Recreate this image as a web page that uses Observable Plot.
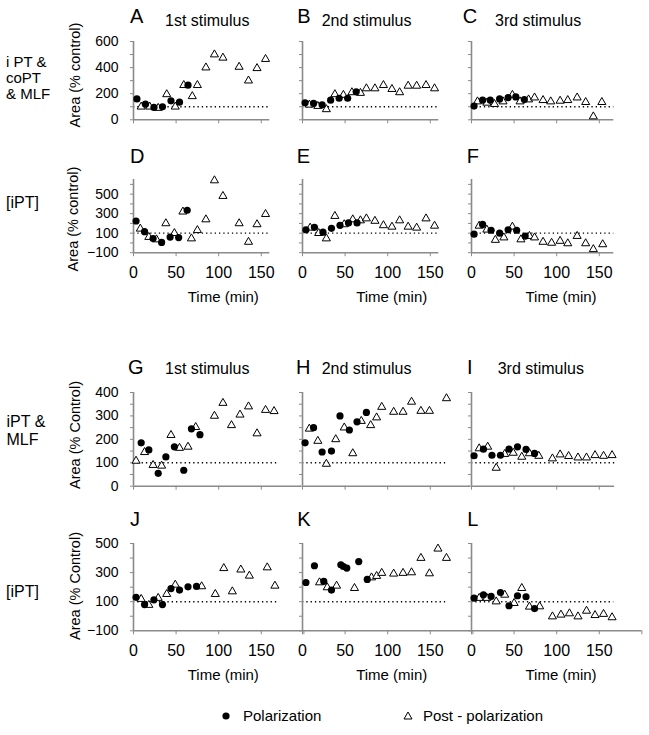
<!DOCTYPE html>
<html>
<head>
<meta charset="utf-8">
<script src="https://cdn.jsdelivr.net/npm/d3@7"></script>
<script src="https://cdn.jsdelivr.net/npm/@observablehq/plot@0.6"></script>
<style>
  html, body { margin: 0; padding: 0; background: #fff; }
  #fig { position: relative; width: 649px; height: 735px; overflow: hidden;
         font-family: "Liberation Sans", Arial, sans-serif; color: #000; }
  #fig .t { position: absolute; white-space: pre; }
  #fig svg { overflow: visible; }
</style>
</head>
<body>
<div id="fig"></div>
<script>
// ---------- data: [time (min), area (% control)] ----------
const A_pol  = [[4,160],[14,120],[24,95],[34,100],[44,145],[54,135],[64,265]];
const A_post = [[9,100],[19,100],[29,90],[39,195],[49,100],[59,265],[69,180],[75,265],[85,400],[95,500],[105,475],[124,405],[135,300],[145,395],[155,465]];
const B_pol  = [[3,130],[13,125],[23,115],[33,150],[43,165],[53,165],[63,215]];
const B_post = [[8,115],[18,105],[28,80],[38,195],[48,190],[58,210],[68,205],[75,240],[85,240],[95,265],[105,235],[114,210],[124,260],[134,260],[145,265],[155,240]];
const C_pol  = [[3,105],[13,150],[22,150],[33,160],[43,170],[52,175],[62,155]];
const C_post = [[7,140],[18,130],[27,120],[37,140],[48,190],[57,140],[67,155],[74,170],[84,150],[93,140],[104,145],[113,150],[124,170],[134,135],[143,25],[153,135]];
const D_pol  = [[3,225],[13,115],[23,45],[33,5],[43,60],[53,55],[63,335]];
const D_post = [[8,145],[18,60],[27,35],[38,200],[48,100],[58,320],[68,45],[75,130],[85,240],[95,640],[105,480],[124,200],[135,10],[145,190],[155,295]];
const E_pol  = [[4,135],[14,160],[24,110],[34,150],[44,180],[54,205],[64,205]];
const E_post = [[9,155],[19,100],[28,45],[38,275],[49,190],[59,240],[68,230],[75,250],[85,225],[95,180],[105,165],[114,230],[124,165],[134,155],[145,250],[155,175]];
const F_pol  = [[3,90],[13,190],[23,130],[33,100],[43,135],[53,130],[63,70]];
const F_post = [[9,175],[18,135],[28,30],[38,55],[48,165],[58,35],[68,70],[74,55],[84,10],[94,0],[104,20],[113,-5],[124,70],[134,-5],[143,-65],[154,-15]];
const G_pol  = [[9,185],[18,155],[29,55],[38,125],[48,168],[59,68],[68,245],[78,220]];
const G_post = [[3,108],[13,145],[23,90],[33,87],[44,218],[54,163],[64,168],[73,252],[95,300],[105,355],[115,260],[125,305],[135,340],[145,225],[155,325],[165,320]];
const H_pol  = [[3,185],[13,250],[23,146],[34,150],[44,300],[55,240],[64,275],[75,315]];
const H_post = [[8,245],[18,193],[28,95],[39,200],[49,250],[59,140],[69,278],[80,260],[87,293],[93,338],[107,317],[118,317],[128,360],[139,321],[149,321],[169,375]];
const I_pol  = [[3,130],[14,158],[24,132],[34,132],[44,158],[54,168],[64,157],[74,140]];
const I_post = [[9,161],[19,168],[29,78],[39,137],[49,142],[59,125],[68,140],[79,129],[95,118],[104,135],[114,128],[125,122],[135,122],[145,132],[155,129],[165,132]];
const J_pol  = [[3,130],[13,80],[24,113],[34,80],[44,190],[54,180],[64,202],[74,205]];
const J_post = [[9,118],[18,77],[29,125],[39,152],[49,216],[80,205],[96,152],[106,330],[116,170],[126,320],[136,278],[157,335],[166,209]];
const K_pol  = [[4,232],[14,347],[25,239],[34,180],[45,354],[48,342],[52,331],[66,376],[76,253]];
const K_post = [[20,232],[29,198],[40,209],[61,193],[81,266],[87,276],[93,297],[107,292],[118,297],[128,301],[139,400],[149,294],[159,464],[169,400]];
const L_pol  = [[3,125],[14,147],[23,136],[34,163],[44,72],[54,141],[64,134],[74,53]];
const L_post = [[9,125],[18,125],[29,101],[39,147],[50,90],[59,193],[68,65],[80,67],[95,-2],[105,10],[115,19],[125,-2],[135,37],[145,7],[155,15],[165,-8]];

const letters   = ["A","B","C","D","E","F","G","H","I","J","K","L"];
const polData   = [A_pol,B_pol,C_pol,D_pol,E_pol,F_pol,G_pol,H_pol,I_pol,J_pol,K_pol,L_pol];
const postData  = [A_post,B_post,C_post,D_post,E_post,F_post,G_post,H_post,I_post,J_post,K_post,L_post];
const stimTitles = ["1st stimulus","2nd stimulus","3rd stimulus"];
const rowLabels  = ["i PT &\ncoPT\n& MLF","[iPT]","iPT &\nMLF","[iPT]"];
const yTitles    = ["Area (% control)","Area (% control)","Area (% Control)","Area (% Control)"];
const xTickValues = [0,50,100,150,200];
const xTickLabels = [0,50,100,150];
const yTickValues = [[0,100,200,300,400,500,600],[-100,0,100,200,300,400,500,600],[0,50,100,150,200,250,300,350,400],[-100,0,100,200,300,400,500]];
const yTickLabels = [[0,200,400,600],[-100,100,300,500],[0,100,200,300,400],[-100,100,300,500]];
const yDomains    = [[0,600],[-100,650],[0,400],[-100,500]];
const xEnds       = [160,160,167,160,160,167,197,197,168,200,200,200];
const refEnds     = [160,160,167,160,160,167,170,168,170,170,168,167];
const baseline    = 100;

// ---------- layout (pixels) ----------
const pxPerMin = 0.852;
const colX = [133.3, 301.7, 471];
const rowTop = [40.7, 179.1, 392.3, 542.7];
const rowBottom = [119, 252.3, 486, 630];
const rowHasXLabels = [false, true, false, true];
const AXIS = "#8a8a8a";
const FONT = "'Liberation Sans', Arial, sans-serif";

const fig = document.getElementById("fig");
function addText(str, x, capY, size, lh, extra = {}) {
  const d = document.createElement("div");
  d.className = "t";
  d.textContent = str;
  d.style.fontSize = size + "px";
  d.style.lineHeight = lh + "px";
  d.style.left = x + "px";
  d.style.top = (capY - lh / 2 + 0.01 * size) + "px";
  Object.assign(d.style, extra);
  fig.appendChild(d);
  return d;
}

for (let i = 0; i < 12; i++) {
  const row = Math.floor(i / 3), col = i % 3;
  const [y0, y1] = yDomains[row];
  const ml = col === 0 ? 50 : 8, mr = 6, mt = 6, mb = rowHasXLabels[row] ? 34 : 12;
  const pw = xEnds[i] * pxPerMin;
  const ph = rowBottom[row] - rowTop[row];
  const end = refEnds[i];
  const marks = [
    Plot.ruleY([baseline], {x1: () => 0, x2: () => end, stroke: "black", strokeWidth: 1.4, strokeDasharray: "1.3,3"}),
    Plot.ruleX([0], {stroke: AXIS, strokeWidth: 1.6}),
    Plot.ruleY([y0], {stroke: AXIS, strokeWidth: 1.6}),
    Plot.axisY({ticks: yTickValues[row], tickSize: 3, tickFormat: () => "", stroke: AXIS, label: null}),
    Plot.axisX({ticks: xTickValues.filter(v => v <= xEnds[i]), tickSize: 4, tickFormat: () => "", stroke: AXIS, label: null}),
  ];
  if (col === 0) marks.push(Plot.axisY({ticks: yTickLabels[row], tickSize: 0, tickPadding: 15, fontSize: 14, label: null}));
  if (rowHasXLabels[row]) marks.push(Plot.axisX({ticks: xTickLabels, tickSize: 0, tickPadding: 14, fontSize: 16, label: null}));
  marks.push(
    Plot.dot(postData[i], {x: d => d[0], y: d => d[1], symbol: "triangle", r: 3, fill: "white", stroke: "black", strokeWidth: 1}),
    Plot.dot(polData[i], {x: d => d[0], y: d => d[1], symbol: "circle", r: 3.6, fill: "black", stroke: "none"})
  );
  const svg = Plot.plot({
    width: ml + pw + mr, height: mt + ph + mb,
    marginLeft: ml, marginRight: mr, marginTop: mt, marginBottom: mb,
    x: {domain: [0, xEnds[i]]},
    y: {domain: [y0, y1]},
    style: {fontFamily: FONT, fontSize: "14px", background: "transparent", color: "black", overflow: "visible"},
    marks
  });
  svg.style.position = "absolute";
  svg.style.left = (colX[col] - ml) + "px";
  svg.style.top = (rowTop[row] - mt) + "px";
  fig.appendChild(svg);
}

// panel letters and stimulus titles
const letterX = [[130,297.3,462.7],[130,296.7,466.7],[128,296,467],[130,297.3,467.3]];
const letterY = [15.5, 155.5, 366.7, 519];
const titleX = [[165,321.7,495],[165,321.7,497.7]];
const titleY = [20.5, 368.8];
for (let r = 0; r < 4; r++) {
  for (let c = 0; c < 3; c++) addText(letters[r*3+c], letterX[r][c], letterY[r], 20, 24);
}
[0, 2].forEach((r, k) => {
  for (let c = 0; c < 3; c++) addText(stimTitles[c], titleX[k][c], titleY[k], 16, 20);
});

// row labels
addText(rowLabels[0], 6, 61.7, 15, 16);
addText(rowLabels[1], 6, 203.3, 16, 18);
addText(rowLabels[2], 6.5, 421.7, 16, 18.3);
addText(rowLabels[3], 6, 591.7, 16, 18);

// y titles (rotated)
const yTitleCenters = [[75,75],[73,219],[75,435],[75,586]];
yTitles.forEach((s, r) => {
  const d = document.createElement("div");
  d.className = "t";
  d.textContent = s;
  d.style.fontSize = "14.5px";
  d.style.lineHeight = "16px";
  d.style.left = yTitleCenters[r][0] + "px";
  d.style.top = yTitleCenters[r][1] + "px";
  d.style.transform = "translate(-50%,-50%) rotate(-90deg)";
  fig.appendChild(d);
});

// x titles
[297, 675].forEach(y => {
  colX.forEach(x => {
    const d = addText("Time (min)", x + 90, y, 15, 18);
    d.style.transform = "translateX(-50%)";
  });
});

// legend
const leg = document.createElement("div");
leg.style.position = "absolute";
leg.style.left = "0px"; leg.style.top = "706px";
leg.innerHTML = `<svg width="649" height="22" style="position:absolute;left:0;top:0">
  <circle cx="226" cy="10" r="3.6" fill="black"/>
  <path d="M408,6 L412,13 L404,13 Z" fill="white" stroke="black" stroke-width="1"/>
</svg>`;
fig.appendChild(leg);
addText("Polarization", 243, 716, 15, 18);
addText("Post - polarization", 423, 716, 15, 18);
</script>
</body>
</html>
